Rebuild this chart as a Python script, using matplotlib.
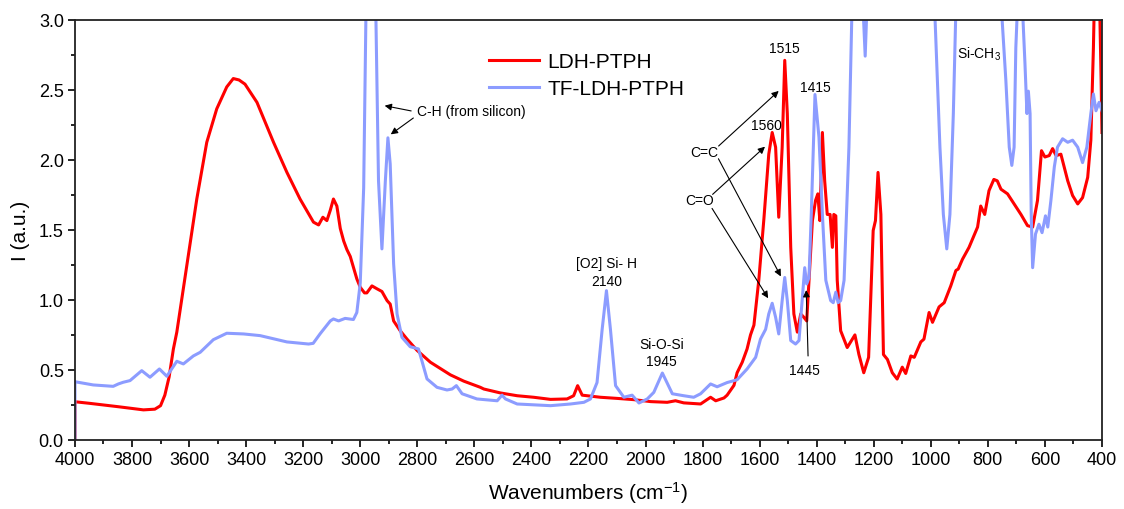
import numpy as np
import matplotlib
matplotlib.use('Agg')
import matplotlib.pyplot as plt
from matplotlib.ticker import MultipleLocator

plt.rcParams['font.family'] = ['Liberation Sans', 'DejaVu Sans']
plt.rcParams['mathtext.default'] = 'regular'

#### FTIR spectra: (wavenumber cm-1, intensity a.u.) ####
ldh_wn = [4000, 4000, 3950, 3900, 3850, 3800, 3760, 3720, 3700, 3685, 3670,
          3655, 3643, 3626, 3608, 3573, 3538, 3503, 3468, 3445, 3425, 3404,
          3362, 3304, 3257, 3211, 3164, 3146, 3131, 3117, 3105, 3094, 3082,
          3070, 3058, 3047, 3035, 3012, 3000, 2985, 2977, 2959, 2942, 2924,
          2906, 2895, 2883, 2860, 2836, 2801, 2754, 2684, 2637, 2579, 2567,
          2509, 2450, 2392, 2333, 2275, 2252, 2238, 2222, 2158, 2100, 2041,
          1982, 1924, 1895, 1866, 1807, 1772, 1754, 1725, 1714, 1690, 1679,
          1661, 1644, 1632, 1620, 1603, 1585, 1568, 1556, 1544, 1533, 1521,
          1512, 1503, 1491, 1480, 1468, 1456, 1445, 1435, 1427, 1415, 1404,
          1396, 1389, 1380, 1372, 1363, 1353, 1345, 1340, 1333, 1328, 1316,
          1293, 1281, 1266, 1252, 1235, 1218, 1202, 1194, 1185, 1175, 1166,
          1152, 1135, 1118, 1100, 1088, 1070, 1058, 1035, 1024, 1006, 994,
          971, 953, 930, 912, 904, 889, 866, 836, 825, 811, 796, 779, 767,
          754, 731, 708, 684, 661, 643, 626, 612, 600, 585, 573, 561, 544,
          520, 503, 485, 468, 450, 439, 430, 425, 410, 403, 400]
ldh_i = [0.0, 0.273, 0.262, 0.250, 0.238, 0.225, 0.215, 0.22, 0.245, 0.32, 0.45,
         0.65, 0.77, 1.0, 1.245, 1.72, 2.125, 2.364, 2.52, 2.58, 2.57, 2.54,
         2.41, 2.125, 1.91, 1.72, 1.555, 1.535, 1.59, 1.566, 1.64, 1.72, 1.67,
         1.51, 1.42, 1.36, 1.31, 1.15, 1.09, 1.05, 1.05, 1.10, 1.08, 1.06,
         0.995, 0.97, 0.85, 0.78, 0.72, 0.64, 0.555, 0.465, 0.42, 0.376, 0.364,
         0.336, 0.316, 0.305, 0.29, 0.293, 0.316, 0.388, 0.32, 0.305, 0.297, 0.288,
         0.274, 0.269, 0.28, 0.265, 0.257, 0.305, 0.28, 0.30, 0.32, 0.39, 0.48,
         0.555, 0.65, 0.75, 0.82, 1.14, 1.58, 2.04, 2.195, 2.09, 1.59, 2.09,
         2.71, 2.33, 1.375, 0.9, 0.77, 0.9, 0.876, 0.85, 1.14, 1.566, 1.71,
         1.757, 1.566, 2.195, 1.85, 1.61, 1.61, 1.375, 1.61, 1.60, 1.14, 0.78,
         0.66, 0.70, 0.75, 0.61, 0.48, 0.59, 1.495, 1.566, 1.91, 1.61, 0.61,
         0.575, 0.48, 0.435, 0.52, 0.475, 0.60, 0.59, 0.70, 0.72, 0.91, 0.84,
         0.95, 0.98, 1.10, 1.21, 1.22, 1.29, 1.375, 1.52, 1.67, 1.61, 1.78, 1.86, 1.85,
         1.79, 1.757, 1.685, 1.61, 1.53, 1.52, 1.71, 2.065, 2.02, 2.03, 2.08, 2.03, 2.04,
         1.85, 1.745, 1.685, 1.73, 1.875, 2.14, 2.80, 3.3, 3.3, 2.57, 2.195]

tf_wn = [4000, 4000, 3936, 3866, 3848, 3831, 3807, 3766, 3737, 3704, 3678,
         3643, 3620, 3585, 3561, 3515, 3468, 3409, 3351, 3257, 3181, 3165,
         3140, 3105, 3094, 3076, 3053, 3024, 3012, 3000, 2988, 2979, 2965,
         2950, 2945, 2936, 2924, 2912, 2903, 2895, 2883, 2871, 2854, 2825,
         2796, 2784, 2766, 2731, 2696, 2678, 2663, 2643, 2591, 2520, 2503,
         2491, 2450, 2333, 2263, 2216, 2193, 2170, 2152, 2137, 2123, 2105,
         2076, 2047, 2023, 1994, 1971, 1941, 1906, 1866, 1831, 1807, 1772,
         1749, 1714, 1679, 1644, 1614, 1597, 1579, 1568, 1556, 1544, 1533,
         1521, 1512, 1503, 1491, 1474, 1462, 1450, 1442, 1435, 1427, 1419,
         1406, 1392, 1380, 1368, 1351, 1342, 1333, 1325, 1316, 1304, 1287,
         1275, 1260, 1240, 1230, 1222, 1200, 1100, 1000, 985, 968, 956, 944,
         933, 921, 913, 880, 800, 750, 737, 725, 716, 708, 702, 696, 688,
         679, 670, 663, 658, 652, 648, 643, 633, 621, 610, 598, 590, 579,
         567, 556, 538, 520, 503, 485, 468, 453, 439, 430, 421, 410, 400]
tf_i = [0.0, 0.416, 0.393, 0.383, 0.40, 0.412, 0.424, 0.495, 0.448, 0.507, 0.455,
        0.562, 0.543, 0.60, 0.626, 0.716, 0.762, 0.757, 0.745, 0.70, 0.685, 0.69,
        0.76, 0.85, 0.864, 0.85, 0.868, 0.86, 0.91, 1.12, 1.8, 3.2, 4.0,
        3.2, 3.0, 1.85, 1.364, 1.85, 2.157, 1.97, 1.257, 0.9, 0.733, 0.666,
        0.65, 0.566, 0.436, 0.376, 0.357, 0.364, 0.388, 0.33, 0.293, 0.28, 0.32,
        0.293, 0.257, 0.245, 0.257, 0.269, 0.293, 0.41, 0.79, 1.066, 0.79, 0.388,
        0.305, 0.32, 0.264, 0.293, 0.34, 0.478, 0.33, 0.316, 0.305, 0.33, 0.40,
        0.38, 0.41, 0.43, 0.507, 0.59, 0.72, 0.79, 0.90, 0.976, 0.876, 0.757,
        0.995, 1.16, 0.995, 0.71, 0.685, 0.71, 1.02, 1.23, 1.114, 1.16, 1.61,
        2.466, 2.16, 1.61, 1.14, 0.995, 0.98, 1.055, 0.98, 0.995, 1.14, 2.09,
        3.2, 4.5, 3.2, 2.74, 3.2, 5.0, 6.0, 4.0, 3.0, 2.09, 1.61, 1.364,
        1.61, 2.33, 3.0, 5.0, 5.0, 3.0, 2.57, 2.09, 1.96, 2.09, 2.8, 3.1, 3.2,
        3.1, 2.69, 2.33, 2.49, 2.33, 1.61, 1.23, 1.47, 1.54, 1.48, 1.60, 1.52, 1.71,
        1.95, 2.09, 2.15, 2.125, 2.14, 2.09, 1.98, 2.09, 2.33, 2.47, 2.35, 2.41, 2.35]

red = '#ff0000'
blue = '#8c9cff'

fig = plt.figure(figsize=(11.24, 5.10), dpi=100)
ax = fig.add_axes([0.0667, 0.1353, 0.9137, 0.8241])

ax.plot(ldh_wn, ldh_i, color=red, lw=2.2, label='LDH-PTPH')
ax.plot(tf_wn, tf_i, color=blue, lw=2.2, label='TF-LDH-PTPH')

ax.set_xlim(4000, 400)
ax.set_ylim(0, 3.0)
ax.xaxis.set_major_locator(MultipleLocator(200))
ax.xaxis.set_minor_locator(MultipleLocator(100))
ax.yaxis.set_major_locator(MultipleLocator(0.5))
ax.yaxis.set_minor_locator(MultipleLocator(0.25))
ax.yaxis.set_major_formatter(plt.FormatStrFormatter('%.1f'))
ax.tick_params(which='both', direction='out', top=False, right=False,
               labelsize=13)
ax.tick_params(which='major', length=5, width=1.2, pad=3)
ax.tick_params(which='minor', length=3, width=1.2)
for sp in ax.spines.values():
    sp.set_linewidth(1.3)
    sp.set_color('#222222')

ax.set_xlabel('Wavenumbers (cm$^{-1}$)', fontsize=15, labelpad=8)
ax.set_ylabel('I (a.u.)', fontsize=15, labelpad=6)

leg = ax.legend(loc='upper left', bbox_to_anchor=(0.385, 0.968), frameon=False,
                fontsize=15, handlelength=2.4, handletextpad=0.4, labelspacing=0.4)

# peak assignments
fs = 10
arw = dict(arrowstyle='-|>', color='black', lw=0.8, mutation_scale=10)
ax.text(2801, 2.345, 'C-H (from silicon)', fontsize=fs, va='center', ha='left')
ax.annotate('', xy=(2924, 2.39), xytext=(2812, 2.345), arrowprops=arw)
ax.annotate('', xy=(2901, 2.17), xytext=(2806, 2.31), arrowprops=arw)

ax.text(2137, 1.20, '[O2] Si- H\n2140', fontsize=fs, ha='center', va='center',
        linespacing=1.3)
ax.text(1945, 0.627, 'Si-O-Si\n1945', fontsize=fs, ha='center', va='center',
        linespacing=1.3)
ax.text(1515, 2.80, '1515', fontsize=fs, ha='center', va='center')
ax.text(1406, 2.52, '1415', fontsize=fs, ha='center', va='center')
ax.text(1577, 2.245, '1560', fontsize=fs, ha='center', va='center')
ax.text(1795, 2.055, 'C=C', fontsize=fs, ha='center', va='center')
ax.text(1809, 1.71, 'C=O', fontsize=fs, ha='center', va='center')
ax.annotate('', xy=(1526, 2.505), xytext=(1751, 2.085), arrowprops=arw)
ax.annotate('', xy=(1521, 1.15), xytext=(1749, 2.025), arrowprops=arw)
ax.annotate('', xy=(1574, 2.107), xytext=(1772, 1.74), arrowprops=arw)
ax.annotate('', xy=(1565, 0.995), xytext=(1772, 1.67), arrowprops=arw)
ax.text(1442, 0.50, '1445', fontsize=fs, ha='center', va='center')
ax.annotate('', xy=(1437, 1.09), xytext=(1430, 0.58), arrowprops=arw)
ax.text(909, 2.76, 'Si-CH$_3$', fontsize=fs, ha='left', va='center')

fig.savefig('out.png', dpi=100)
